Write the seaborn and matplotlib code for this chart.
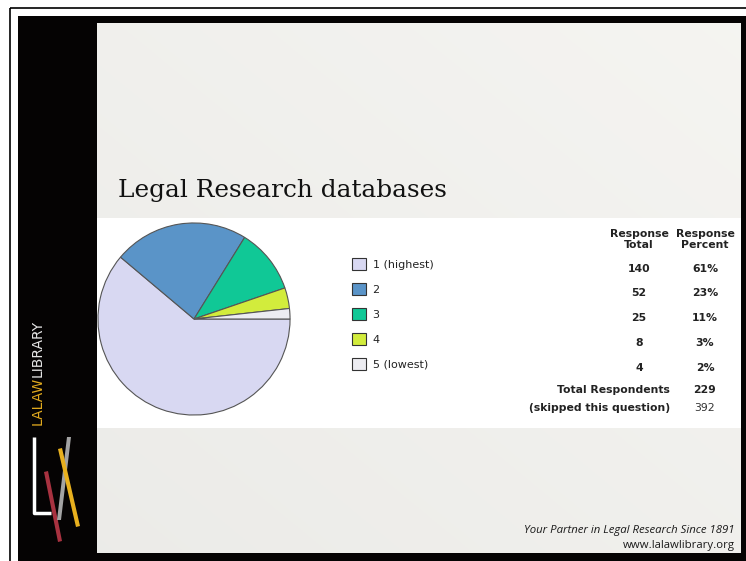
import numpy as np
import seaborn as sns
import matplotlib.pyplot as plt
from matplotlib.patches import Rectangle, Polygon

# -----------------------------
# Data
# -----------------------------
categories = ["1 (highest)", "2", "3", "4", "5 (lowest)"]
response_total = [140, 52, 25, 8, 4]
response_percent = ["61%", "23%", "11%", "3%", "2%"]
total_respondents = 229
skipped = 392
colors = ["#d8d8f2", "#5a94c8", "#10c896", "#d2ec3c", "#ececf1"]

title = "Legal Research databases"
footer_lines = ["Your Partner in Legal Research Since 1891", "www.lalawlibrary.org"]

# -----------------------------
# Figure / slide background
# -----------------------------
sns.set_style("white")
plt.rcParams["font.family"] = ["DejaVu Sans"]

W, H = 746, 561
fig = plt.figure(figsize=(W / 100, H / 100), dpi=100)
fig.patch.set_facecolor("white")

bg = fig.add_axes([0, 0, 1, 1])
bg.set_xlim(0, W)
bg.set_ylim(H, 0)
bg.axis("off")

# outer thin frame + thick black slide border
bg.add_patch(Rectangle((10, 8), W, H, fill=False, edgecolor="black", lw=1.2))
bg.add_patch(Rectangle((18, 16), W, H, facecolor="#050303", edgecolor="none"))

# gradient slide body
grad = np.linspace(0, 1, 256)
gx, gy = np.meshgrid(grad, grad)
shade = 0.925 + 0.035 * (0.5 * gx + 0.5 * (1 - gy))
img = np.dstack([shade, shade * 0.998, shade * 0.985])
bg.imshow(img, extent=[97, 741, 553, 23], aspect="auto", zorder=1)

# white chart panel
bg.add_patch(Rectangle((97, 218), 644, 210, facecolor="white", edgecolor="none", zorder=2))

# title
bg.text(118, 197, title, fontsize=17.8, family="DejaVu Serif", color="#111111",
        va="baseline", ha="left", zorder=3)

# vertical brand name (two colours, placed end to end)
t1 = bg.text(38, 425, "LALAW", rotation=90, fontsize=10, color="#e2aa1e",
             ha="center", va="bottom", zorder=3)
fig.canvas.draw()
ext = t1.get_window_extent().transformed(bg.transData.inverted())
top_y = min(ext.y0, ext.y1)
bg.text(38, top_y, "LIBRARY", rotation=90, fontsize=10, color="#e6e6e6",
        ha="center", va="bottom", zorder=3)

# logo
bg.plot([34, 34, 51], [437, 513, 513], color="white", lw=2.5, solid_capstyle="butt", zorder=3)
bg.add_patch(Polygon([(44, 472), (48, 471), (62, 541), (58, 542)], closed=True,
                     facecolor="#a83240", edgecolor="none", zorder=3))
bg.add_patch(Polygon([(67, 437), (71, 437), (61, 520), (57, 520)], closed=True,
                     facecolor="#a3a3a3", edgecolor="none", zorder=4))
bg.add_patch(Polygon([(58, 449), (62, 448), (80, 526), (76, 527)], closed=True,
                     facecolor="#e8b01e", edgecolor="none", zorder=5))

# footer
bg.text(735, 533, footer_lines[0], fontsize=8.2, style="italic", family="Open Sans",
        color="#1a1a1a", ha="right", va="baseline", zorder=3)
bg.text(735, 548, footer_lines[1], fontsize=8.2, family="Open Sans",
        color="#1a1a1a", ha="right", va="baseline", zorder=3)

# -----------------------------
# Pie chart
# -----------------------------
cx, cy, r = 194, 319, 97
ax = fig.add_axes([(cx - r) / W, 1 - (cy + r) / H, 2 * r / W, 2 * r / H])
ax.set_zorder(5)
wedges, _ = ax.pie(response_total, colors=colors, startangle=0, counterclock=False,
                   wedgeprops=dict(edgecolor="#555555", linewidth=0.8), radius=1)
ax.set_xlim(-1.01, 1.01)
ax.set_ylim(-1.01, 1.01)
ax.set_aspect("equal")
ax.axis("off")

# legend
leg = fig.legend(wedges, categories, loc="upper left",
                 bbox_to_anchor=(352 / W, 1 - 258 / H), frameon=False,
                 fontsize=8, handlelength=1.25, handleheight=1.25,
                 labelspacing=1.2, handletextpad=0.6, borderaxespad=0, borderpad=0)
for h in leg.legend_handles:
    h.set_edgecolor("#333333")
    h.set_linewidth(0.8)
for t in leg.get_texts():
    t.set_color("#222222")

# -----------------------------
# Response table
# -----------------------------
col_total_x, col_pct_x = 639, 705
fs = 7.8
bg.text(col_total_x, 239.5, "Response\nTotal", fontsize=fs, fontweight="bold",
        ha="center", va="center", linespacing=1.1, color="#222222", zorder=6)
bg.text(col_pct_x, 239.5, "Response\nPercent", fontsize=fs, fontweight="bold",
        ha="center", va="center", linespacing=1.1, color="#222222", zorder=6)

row_y = [269, 293, 318, 343, 368]
for y, tot, pct in zip(row_y, response_total, response_percent):
    bg.text(col_total_x, y, str(tot), fontsize=fs, fontweight="bold",
            ha="center", va="center", color="#222222", zorder=6)
    bg.text(col_pct_x, y, pct, fontsize=fs, fontweight="bold",
            ha="center", va="center", color="#222222", zorder=6)

bg.text(670, 390, "Total Respondents", fontsize=fs, fontweight="bold",
        ha="right", va="center", color="#222222", zorder=6)
bg.text(col_pct_x, 390, str(total_respondents), fontsize=fs, fontweight="bold",
        ha="center", va="center", color="#222222", zorder=6)
bg.text(670, 408, "(skipped this question)", fontsize=fs, fontweight="bold",
        ha="right", va="center", color="#222222", zorder=6)
bg.text(col_pct_x, 408, str(skipped), fontsize=fs,
        ha="center", va="center", color="#333333", zorder=6)

fig.savefig("out.png", dpi=100)
